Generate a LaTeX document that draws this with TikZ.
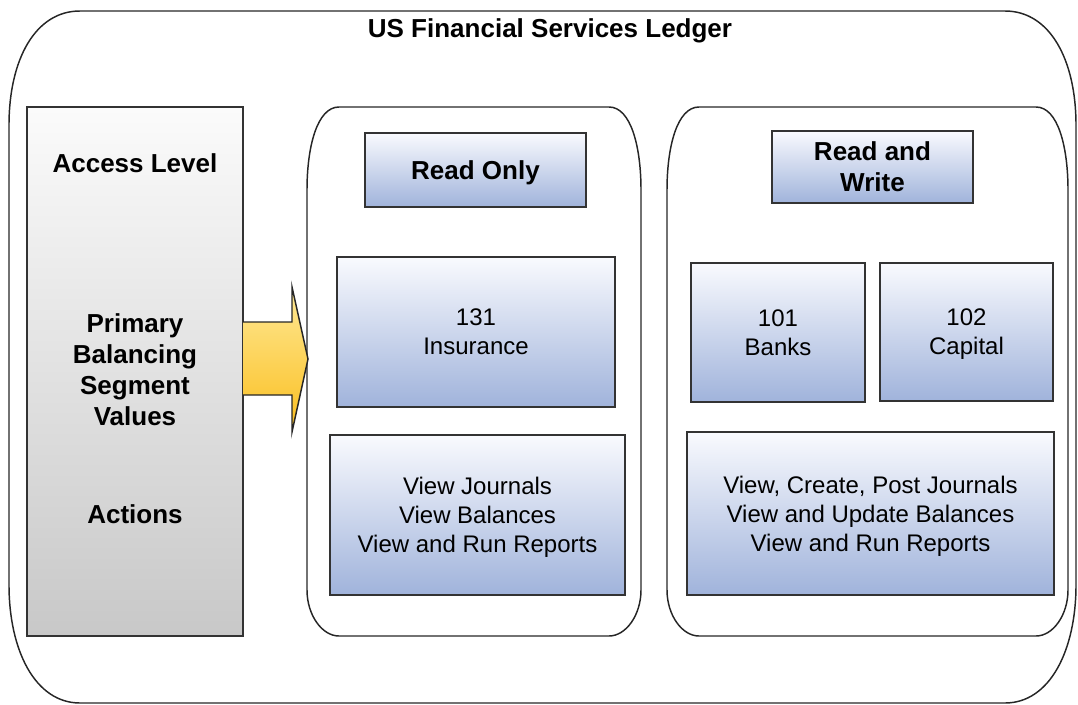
\documentclass[tikz,border=0pt]{standalone}
\usepackage{fontspec}
\setmainfont{Liberation Sans}
\definecolor{blueTop}{RGB}{249,250,254}
\definecolor{blueBot}{RGB}{160,179,219}
\definecolor{grayTop}{RGB}{251,251,251}
\definecolor{grayBot}{RGB}{200,200,200}
\definecolor{goldTop}{RGB}{255,233,150}
\definecolor{goldBot}{RGB}{250,190,30}
\begin{document}
\begin{tikzpicture}[x=0.75pt,y=-0.75pt,
    panel/.style={draw=black!85,line width=1.1pt},
    bluebox/.style={draw=black!80,line width=1.4pt,top color=blueTop,bottom color=blueBot,
      align=center,inner sep=0pt,text depth=0pt,font=\fontsize{18}{21.75}\selectfont},
    head/.style={align=center,font=\bfseries\fontsize{19.5}{23.25}\selectfont}]
  \useasboundingbox (0,0) rectangle (1078,704);
  % outer ledger
  \draw[panel] (80,11) -- (1005,11) .. controls (1050,11) and (1076,60) .. (1076,125)
    -- (1076,585) .. controls (1076,650) and (1050,703) .. (1005,703)
    -- (80,703) .. controls (35,703) and (9,650) .. (9,585)
    -- (9,125) .. controls (9,60) and (35,11) .. cycle;
  \node[head] (title) at (550,31) {US Financial Services Ledger};
  % panels
  \foreach \xa/\xb in {307/641,667/1068}
    \draw[panel] (\xa+32,107) -- (\xb-32,107) .. controls (\xb-10,107) and (\xb,147) .. (\xb,190)
      -- (\xb,590) .. controls (\xb,615) and (\xb-15,636) .. (\xb-32,636)
      -- (\xa+32,636) .. controls (\xa+15,636) and (\xa,615) .. (\xa,590)
      -- (\xa,190) .. controls (\xa,147) and (\xa+10,107) .. cycle;
  % left column
  \node[draw=black!80,line width=1.4pt,top color=grayTop,bottom color=grayBot,inner sep=0pt,
    minimum width=216*0.75pt,minimum height=529*0.75pt] (level) at (135,371.5) {};
  \node[head] (acc) at (135,163) {Access Level};
  \node[head] (pbsv) at (135,370) {Primary\\Balancing\\Segment\\Values};
  \node[head] (act) at (135,514) {Actions};
  % arrow
  \draw[draw=black!85,line width=1.1pt,top color=goldTop,bottom color=goldBot]
    (243,322) -- (292,322) -- (292,287) -- (308,359) -- (292,432) -- (292,395) -- (243,395);
  % read only
  \node[bluebox,font=\bfseries\fontsize{19.5}{23.25}\selectfont,minimum width=221*0.75pt,minimum height=74*0.75pt] (ro) at (475.5,170) {Read Only};
  \node[bluebox,minimum width=278*0.75pt,minimum height=150*0.75pt] (ins) at (476,332) {131\\Insurance};
  \node[bluebox,minimum width=295*0.75pt,minimum height=160*0.75pt] (vj) at (477.5,515) {View Journals\\View Balances\\View and Run Reports};
  % read and write
  \node[bluebox,font=\bfseries\fontsize{19.5}{23.25}\selectfont,minimum width=201*0.75pt,minimum height=72*0.75pt] (rw) at (872.5,167) {Read and\\Write};
  \node[bluebox,minimum width=174*0.75pt,minimum height=139*0.75pt] (banks) at (778,332.5) {101\\Banks};
  \node[bluebox,minimum width=173*0.75pt,minimum height=138*0.75pt] (capital) at (966.5,332) {102\\Capital};
  \node[bluebox,minimum width=367*0.75pt,minimum height=163*0.75pt] (vc) at (870.5,513.5) {View, Create, Post Journals\\View and Update Balances\\View and Run Reports};
\end{tikzpicture}
\end{document}
